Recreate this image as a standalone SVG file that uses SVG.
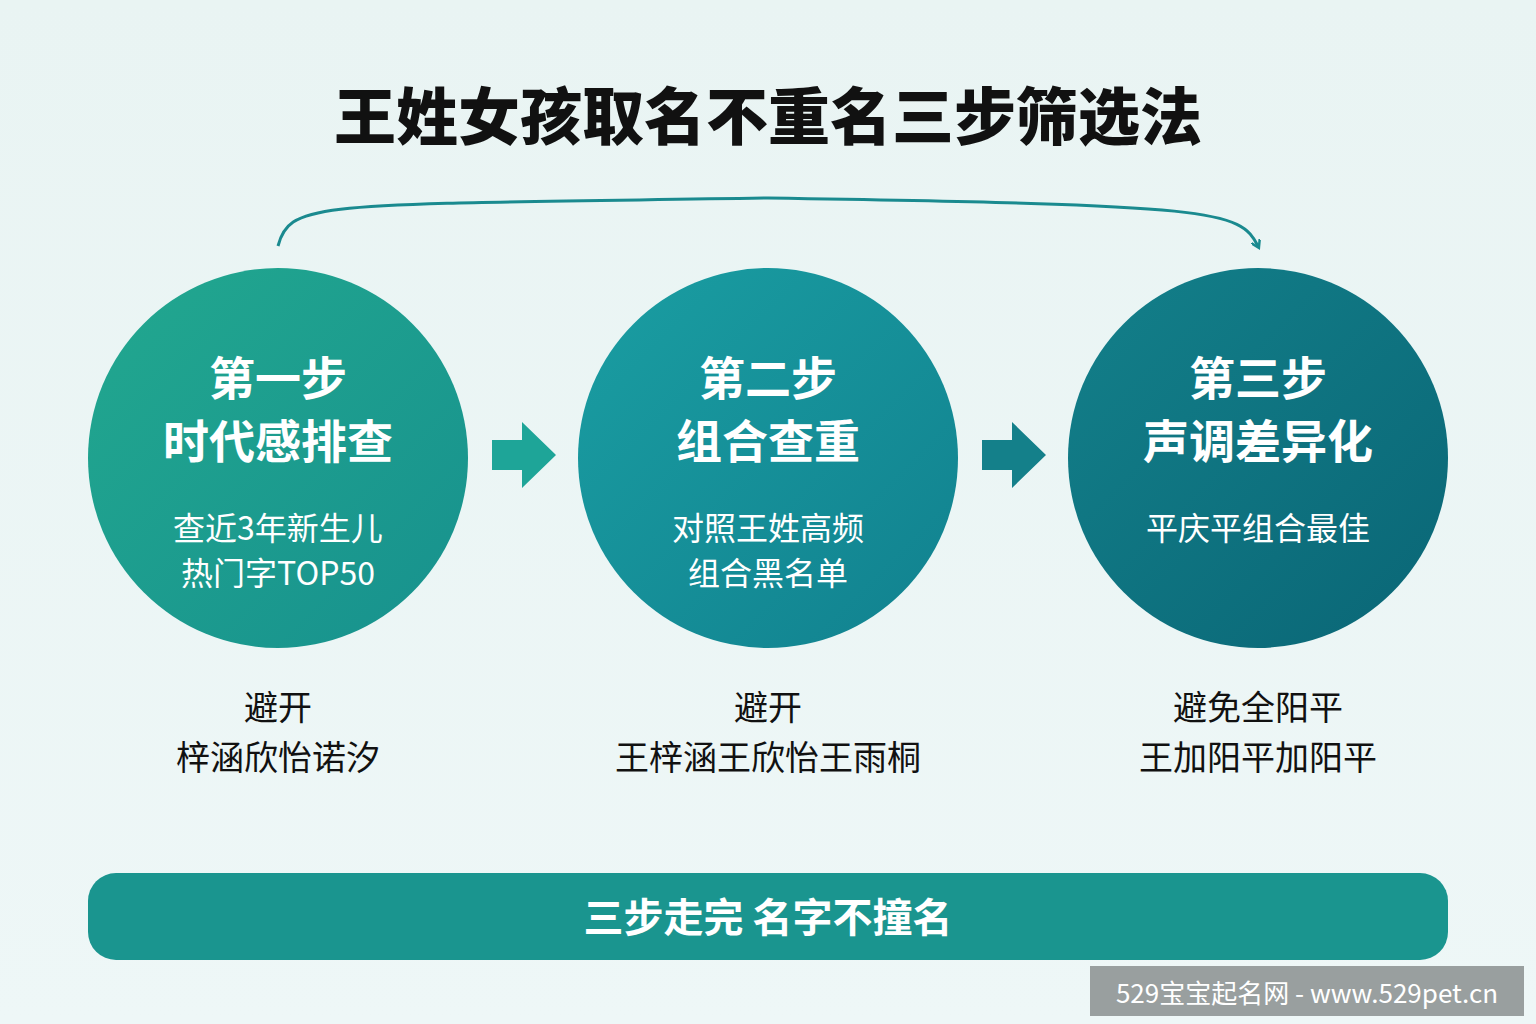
<svg xmlns="http://www.w3.org/2000/svg" width="1536" height="1024" viewBox="0 0 1536 1024">
<defs>
<linearGradient id="bg" x1="0" y1="0" x2="0" y2="1"><stop offset="0" stop-color="#e9f4f3"/><stop offset="1" stop-color="#eef7f7"/></linearGradient>
<linearGradient id="c1" x1="0" y1="0" x2="1" y2="1"><stop offset="0" stop-color="#22a88f"/><stop offset="1" stop-color="#17918e"/></linearGradient>
<linearGradient id="c2" x1="0" y1="0" x2="1" y2="1"><stop offset="0" stop-color="#1a9ea2"/><stop offset="1" stop-color="#11818f"/></linearGradient>
<linearGradient id="c3" x1="0" y1="0" x2="1" y2="1"><stop offset="0" stop-color="#13808a"/><stop offset="1" stop-color="#0a6676"/></linearGradient>
<marker id="ah" markerWidth="10" markerHeight="10" refX="6" refY="5" orient="auto" markerUnits="userSpaceOnUse"><path d="M0,0 L8,5 L0,10" fill="none" stroke="#1a8a8f" stroke-width="2.5"/></marker>
<style>
text{font-family:"Noto Sans CJK SC","Liberation Sans",sans-serif;text-anchor:middle}
.h{fill:#fff;font-weight:700;font-size:46px}
.s{fill:#fff;font-size:32px}
.b{fill:#111;font-size:34px}
</style>
</defs>
<rect width="1536" height="1024" fill="url(#bg)"/>
<text x="768" y="140" font-size="62" font-weight="900" fill="#111">王姓女孩取名不重名三步筛选法</text>
<g id="connectors" fill="#1a9a95">
<path d="M278,246 C290,200 320,205 768,198 C1216,205 1240,210 1258,246" fill="none" stroke="#1a8a8f" stroke-width="3" marker-end="url(#ah)"/>
<polygon points="492,440 522,440 522,422 556,455 522,488 522,470 492,470" fill="#1ea598"/>
<polygon points="982,440 1012,440 1012,422 1046,455 1012,488 1012,470 982,470" fill="#14808a"/>
</g>
<g id="step1"><circle cx="278" cy="458" r="190" fill="url(#c1)"/>
<text class="h" x="278" y="395">第一步</text><text class="h" x="278" y="458">时代感排查</text>
<text class="s" x="278" y="540">查近3年新生儿</text><text class="s" x="278" y="585">热门字TOP50</text>
<text class="b" x="278" y="720">避开</text><text class="b" x="278" y="770">梓涵欣怡诺汐</text></g>
<g id="step2"><circle cx="768" cy="458" r="190" fill="url(#c2)"/>
<text class="h" x="768" y="395">第二步</text><text class="h" x="768" y="458">组合查重</text>
<text class="s" x="768" y="540">对照王姓高频</text><text class="s" x="768" y="585">组合黑名单</text>
<text class="b" x="768" y="720">避开</text><text class="b" x="768" y="770">王梓涵王欣怡王雨桐</text></g>
<g id="step3"><circle cx="1258" cy="458" r="190" fill="url(#c3)"/>
<text class="h" x="1258" y="395">第三步</text><text class="h" x="1258" y="458">声调差异化</text>
<text class="s" x="1258" y="540">平庆平组合最佳</text>
<text class="b" x="1258" y="720">避免全阳平</text><text class="b" x="1258" y="770">王加阳平加阳平</text></g>
<g id="summary"><rect x="88" y="873" width="1360" height="87" rx="28" fill="#1a958f"/>
<text x="768" y="932" font-size="40" font-weight="700" fill="#fff">三步走完 名字不撞名</text></g>
<rect x="1090" y="966" width="434" height="50" fill="#8a8f8f" opacity="0.85"/>
<text x="1307" y="1003" font-size="26" fill="#fff">529宝宝起名网 - www.529pet.cn</text>
</svg>
